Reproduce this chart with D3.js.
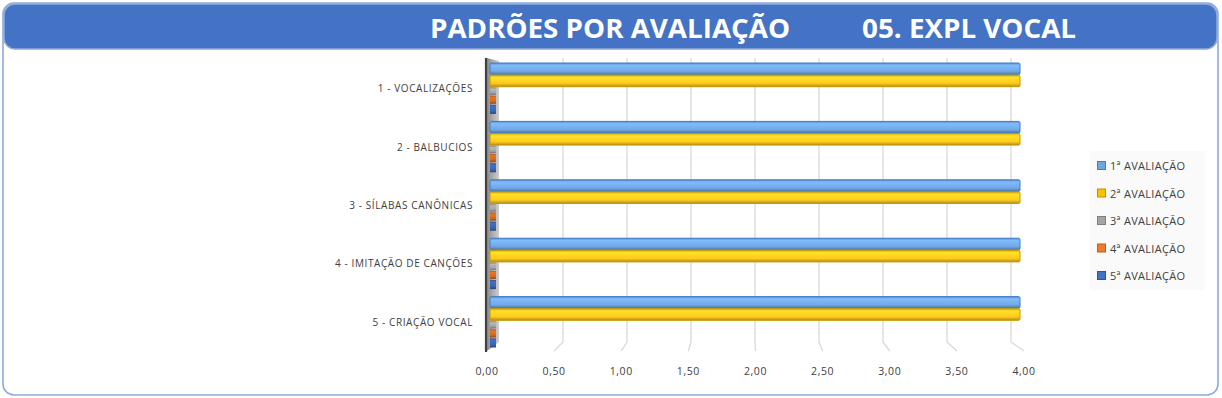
<!DOCTYPE html>
<html><head><meta charset="utf-8">
<script src="https://cdn.jsdelivr.net/npm/d3@7"></script>
<style>body{margin:0;background:#fff}svg{display:block}</style>
</head><body>
<svg id="c" width="1222" height="398"></svg>
<script>
const categories = ["1 - VOCALIZAÇÕES","2 - BALBUCIOS","3 - SÍLABAS CANÔNICAS","4 - IMITAÇÃO DE CANÇÕES","5 - CRIAÇÃO VOCAL"];
const seriesNames = ["1ª AVALIAÇÃO","2ª AVALIAÇÃO","3ª AVALIAÇÃO","4ª AVALIAÇÃO","5ª AVALIAÇÃO"];
const s1 = [4,4,4,4,4];
const s2 = [4,4,4,4,4];
const s3 = [0,0,0,0,0];
const s4 = [0,0,0,0,0];
const s5 = [0,0,0,0,0];
const tickValues = [0,0.5,1,1.5,2,2.5,3,3.5,4];
const titleLeft = "PADRÕES POR AVALIAÇÃO";
const titleRight = "05. EXPL VOCAL";

const seriesValues = [s1,s2,s3,s4,s5];
const seriesWeight = [12,12,8,9,10];
const fills = ["#72a9e6","#ffcb1f","#a5a5a5","#d0691f","#3b64b0"];
const strokes = ["#3d7cc9","#c99700","#7f7f7f","#b25a1c","#2f5597"];
const legendFill = ["#6fa8dc","#ffc000","#a5a5a5","#ed7d31","#4472c4"];
const legendStroke = ["#3d7cc9","#bf9000","#7f7f7f","#c55a11","#2f5597"];

const svg = d3.select("#c");
const defs = svg.append("defs");

// outer frame
svg.append("rect").attr("x",3).attr("y",3).attr("width",1215).attr("height",392)
  .attr("rx",11).attr("fill","#fff").attr("stroke","#8eaadb").attr("stroke-width",1.6);
// title bar
svg.append("rect").attr("x",4).attr("y",4).attr("width",1213).attr("height",45)
  .attr("rx",11).attr("fill","#4472c4").attr("stroke","#8eaadb").attr("stroke-width",1.5);
svg.append("text").attr("x",610).attr("y",38).attr("text-anchor","middle")
  .attr("font-family","Open Sans, sans-serif").attr("font-weight","bold").attr("font-size",26)
  .attr("fill","#fff").attr("textLength",360).attr("lengthAdjust","spacingAndGlyphs").text(titleLeft);
svg.append("text").attr("x",969).attr("y",38).attr("text-anchor","middle")
  .attr("font-family","Open Sans, sans-serif").attr("font-weight","bold").attr("font-size",26)
  .attr("fill","#fff").attr("textLength",214).attr("lengthAdjust","spacingAndGlyphs").text(titleRight);

// scales: front and back planes (perspective)
const xFront = d3.scaleLinear().domain([0,4]).range([487,1024]);
const xBack = d3.scaleLinear().domain([0,4]).range([499,1011]);
const xBar = d3.scaleLinear().domain([0,4]).range([490,1020]);
const yTop = 58, yBackBottom = 342, yFront = 351;

// gridlines (back wall + floor)
const grid = svg.append("g");
tickValues.filter(v=>v>0).forEach(v=>{
  grid.append("path")
    .attr("d",`M${xBack(v)},${yTop}L${xBack(v)},${yBackBottom}L${xFront(v)},${yFront}`)
    .attr("fill","none").attr("stroke","#d9d9d9").attr("stroke-width",1.3);
});

// left side wall
const wg = defs.append("linearGradient").attr("id","wall").attr("x1",0).attr("x2",1);
wg.append("stop").attr("offset",0).attr("stop-color","#8c8c8c");
wg.append("stop").attr("offset",1).attr("stop-color","#d0d0d0");
svg.append("path")
  .attr("d",`M${xFront(0)},${yTop}L${xBack(0)},${yTop+3}L${xBack(0)},${yBackBottom}L${xFront(0)},${yFront}Z`)
  .attr("fill","url(#wall)");
svg.append("line").attr("x1",xFront(0)-1).attr("x2",xFront(0)-1).attr("y1",yTop).attr("y2",yFront+1)
  .attr("stroke","#404040").attr("stroke-width",2.2);

// category bands
const y = d3.scaleBand().domain(categories).range([59,351]).paddingInner(0.12).paddingOuter(0.06);
const cum = [0]; seriesWeight.forEach((w,i)=>cum.push(cum[i]+w));
const ys = d3.scaleLinear().domain([0,cum[5]]).range([0,y.bandwidth()]);

// gradients for bars
fills.forEach((f,i)=>{
  const g = defs.append("linearGradient").attr("id","g"+i).attr("x1",0).attr("x2",0).attr("y1",0).attr("y2",1);
  const c = d3.color(f);
  g.append("stop").attr("offset",0).attr("stop-color",c.darker(0.5));
  g.append("stop").attr("offset",0.2).attr("stop-color",c.brighter(0.3));
  g.append("stop").attr("offset",0.7).attr("stop-color",c);
  g.append("stop").attr("offset",1).attr("stop-color",c.darker(1));
});

const bars = svg.append("g");
categories.forEach((cat,ci)=>{
  seriesValues.forEach((vals,si)=>{
    const v = vals[ci];
    const y0 = y(cat)+ys(cum[si]), h = ys(cum[si+1])-ys(cum[si]);
    const x0 = xBar(0), x1 = xBar(v);
    if (v > 0) {
      bars.append("rect").attr("x",x0).attr("y",y0+0.5).attr("width",x1-x0).attr("height",h-0.5)
        .attr("rx",1.5).attr("fill","url(#g"+si+")").attr("stroke",strokes[si]).attr("stroke-width",1);
    } else {
      bars.append("rect").attr("x",x0).attr("y",y0+1).attr("width",6).attr("height",h-1)
        .attr("fill","url(#g"+si+")");
    }
  });
});

// category labels
svg.append("g").selectAll("text").data(categories).join("text")
  .attr("x",473).attr("y",d=>y(d)+y.bandwidth()/2+4).attr("text-anchor","end")
  .attr("font-family","Open Sans, sans-serif").attr("font-size",10).attr("letter-spacing",0.6)
  .attr("fill","#404040").text(d=>d);

// x tick labels
const fmt = d=>d3.format(".2f")(d).replace(".",",");
svg.append("g").selectAll("text").data(tickValues).join("text")
  .attr("x",d=>xFront(d)).attr("y",375).attr("text-anchor","middle")
  .attr("font-family","Open Sans, sans-serif").attr("font-size",10.5).attr("letter-spacing",0.6)
  .attr("fill","#404040").text(fmt);

// legend
const lg = svg.append("g");
lg.append("rect").attr("x",1090).attr("y",151).attr("width",115).attr("height",139).attr("fill","#fafafa");
seriesNames.forEach((n,i)=>{
  const ly = 166 + i*27.5;
  lg.append("rect").attr("x",1097.5).attr("y",ly-4.5).attr("width",8).attr("height",8)
    .attr("fill",legendFill[i]).attr("stroke",legendStroke[i]).attr("stroke-width",1);
  lg.append("text").attr("x",1110).attr("y",ly+4).attr("font-family","Open Sans, sans-serif")
    .attr("font-size",11).attr("letter-spacing",0.3).attr("fill","#404040").text(n);
});
</script>
</body></html>
